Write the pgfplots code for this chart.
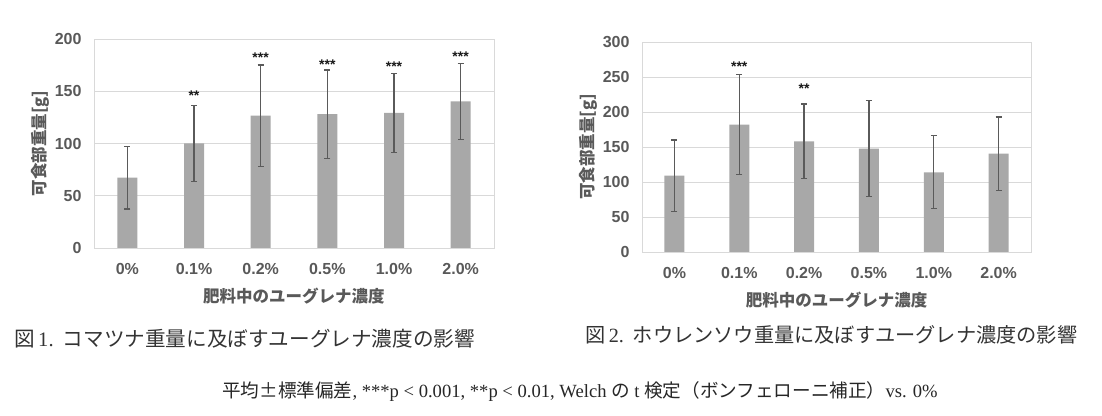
\documentclass[border=0pt]{standalone}
\usepackage{pgfplots}
\pgfplotsset{compat=1.18}
\usepackage{pgfplotstable}
\usepackage{fontspec}
\setmainfont{Liberation Sans}
\newfontfamily\jp{Noto Sans CJK JP}
\newfontfamily\lserif{Liberation Serif}
\definecolor{barc}{HTML}{A8A8A8}
\definecolor{errc}{HTML}{5A5A5A}
\definecolor{txt}{HTML}{595959}
\definecolor{gridc}{HTML}{D9D9D9}

\pgfplotstableread{
x y e
0 67.3 30
1 100 36
2 126.6 48.5
3 128 42.3
4 129.2 37.6
5 140.3 36.3
}\dataA
\pgfplotstableread{
x y s
1 148.6 {**}
2 184.7 {***}
3 178.3 {***}
4 176.4 {***}
5 186 {***}
}\starsA
\pgfplotstableread{
x y e
0 109 51
1 182 71.7
2 158 53.3
3 147.6 68.3
4 113.8 52.2
5 140.4 52.4
}\dataB
\pgfplotstableread{
x y s
1 268.6 {***}
2 237.6 {**}
}\starsB

\pgfplotsset{
  mystyle/.style={
    scale only axis,
    ymin=0, xmin=-0.5, xmax=5.5,
    xtick={0,...,5},
    xticklabels={0\%,0.1\%,0.2\%,0.5\%,1.0\%,2.0\%},
    ymajorgrids,
    grid style={gridc, line width=0.9pt},
    axis line style={gridc, line width=0.9pt},
    major tick length=0pt,
    /pgf/number format/assume math mode=true,
    tick label style={font=\fontsize{16}{16}\selectfont\bfseries, text=txt},
    yticklabel style={xshift=-9pt},
    xticklabel style={anchor=center, yshift=-21pt},
    xlabel={肥料中のユーグレナ濃度},
    ylabel={可食部重量[g]},
    xlabel style={font=\jp\bfseries\fontsize{16.5}{16.5}\selectfont, text=txt, at={(axis description cs:0.5,0)}, anchor=center, yshift=-48pt},
    ylabel style={font=\jp\bfseries\fontsize{16.5}{16.5}\selectfont, text=txt, at={(axis description cs:0,0.5)}, anchor=center, yshift=54pt},
  },
  barplot/.style={ybar, bar width=20pt, bar shift=0pt, fill=barc, draw=none,
    error bars/.cd, y dir=both, y explicit,
    error bar style={errc, line width=1.2pt},
    error mark options={errc, line width=1.2pt, mark size=3pt, rotate=90}},
  starplot/.style={draw=none, mark=none, nodes near coords, point meta=explicit symbolic,
    nodes near coords style={anchor=center, yshift=-3pt, font=\fontsize{14}{14}\selectfont\bfseries, text=black!90}},
}

\begin{document}
\begin{tikzpicture}
\path[use as bounding box] (0pt,0pt) rectangle (1102pt,415pt);
\begin{axis}[mystyle, at={(94pt,167pt)}, anchor=south west, width=400pt, height=209pt,
  ymax=200, ytick={0,50,...,200}]
\addplot[barplot] table[x=x, y=y, y error=e] {\dataA};
\addplot[starplot] table[x=x, y=y, meta=s] {\starsA};
\end{axis}
\begin{axis}[mystyle, at={(642pt,163pt)}, anchor=south west, width=389pt, height=210pt,
  ymax=300, ytick={0,50,...,300}]
\addplot[barplot] table[x=x, y=y, y error=e] {\dataB};
\addplot[starplot] table[x=x, y=y, meta=s] {\starsB};
\end{axis}
\node[anchor=west, inner sep=0pt, text=black!80] at (14pt,76pt) {\fontsize{20.6}{20.6}\selectfont\jp 図\,{\lserif 1.}\ \ コマツナ重量に及ぼすユーグレナ濃度の影響};
\node[anchor=west, inner sep=0pt, text=black!80] at (585pt,80pt) {\fontsize{20.2}{20.2}\selectfont\jp 図\,{\lserif 2.}\ \ ホウレンソウ重量に及ぼすユーグレナ濃度の影響};
\node[anchor=center, inner sep=0pt, text=black!85] at (580pt,23pt) {\fontsize{18.6}{18.6}\selectfont\lserif{\jp 平均±標準偏差}, ***p < 0.001, **p < 0.01, Welch {\jp の} t {\jp 検定（ボンフェローニ補正）}vs. 0\%};
\end{tikzpicture}
\end{document}
